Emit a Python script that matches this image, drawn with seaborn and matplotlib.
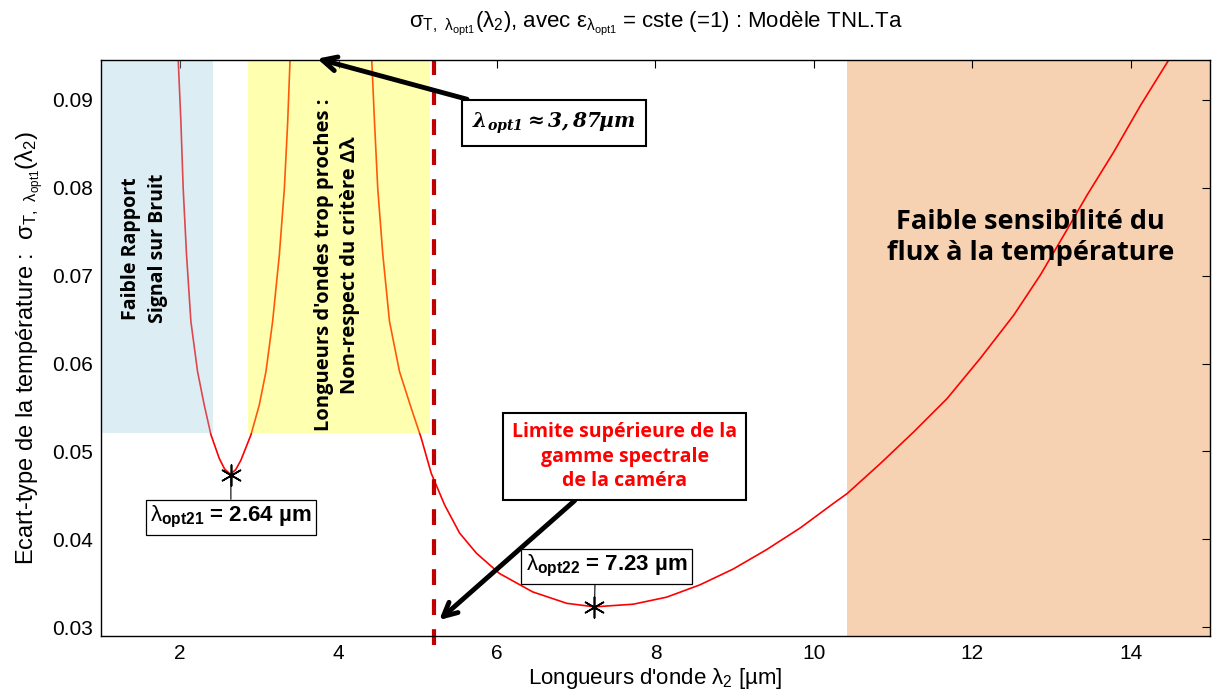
import numpy as np
import pandas as pd
import matplotlib
matplotlib.use('Agg')
import matplotlib.pyplot as plt
import seaborn as sns
from matplotlib.patches import Rectangle

# --- values ---
branch1_x = [1.975, 2.009, 2.038, 2.080, 2.135, 2.219, 2.303, 2.388, 2.493, 2.56, 2.632, 2.70, 2.767,
             2.894, 2.999, 3.083, 3.167, 3.252, 3.315, 3.357, 3.387]
branch1_y = [0.0946, 0.0875, 0.0799, 0.0724, 0.0648, 0.0591, 0.0553, 0.0519, 0.0492, 0.0480, 0.0474,
             0.0479, 0.0490, 0.0519, 0.0553, 0.0591, 0.0648, 0.0724, 0.0799, 0.0875, 0.0946]

branch2_x = [4.418, 4.453, 4.494, 4.558, 4.642, 4.768, 4.917, 5.043, 5.169, 5.338, 5.527, 5.74, 6.03,
             6.45, 6.88, 7.23, 7.72, 8.14, 8.56, 8.98, 9.40, 9.83, 10.25, 10.42, 10.837, 11.258, 11.680,
             12.101, 12.522, 12.860, 13.154, 13.450, 13.786, 14.124, 14.482]
branch2_y = [0.0946, 0.0875, 0.0799, 0.0724, 0.0648, 0.0591, 0.0549, 0.0515, 0.0475, 0.0439, 0.0407,
             0.0384, 0.0361, 0.0340, 0.0327, 0.0323, 0.0326, 0.0334, 0.0348, 0.0366, 0.0388, 0.0413,
             0.0441, 0.0452, 0.0486, 0.0522, 0.0560, 0.0606, 0.0655, 0.0701, 0.0746, 0.0792, 0.0841,
             0.0894, 0.0946]

minima_x = [2.64, 7.23]
minima_y = [0.0473, 0.0323]
minima_labels = [r'$\mathrm{\lambda}_{opt21}$ = 2.64 µm', r'$\mathrm{\lambda}_{opt22}$ = 7.23 µm']

lambda_opt1 = 3.87
camera_limit = 5.2
snr_zone = (1.0, 2.42)
close_zone = (2.85, 5.15)
zone_floor = 0.0521
sensi_zone = (10.42, 15.0)

x_ticks = [2, 4, 6, 8, 10, 12, 14]
y_ticks = [0.03, 0.04, 0.05, 0.06, 0.07, 0.08, 0.09]

sns.set_theme(style='white')
plt.rcParams['font.family'] = ['Liberation Sans', 'DejaVu Sans']
plt.rcParams['mathtext.fontset'] = 'custom'
plt.rcParams['mathtext.rm'] = 'Liberation Sans'
plt.rcParams['mathtext.default'] = 'regular'
plt.rcParams['text.color'] = 'black'
plt.rcParams['axes.labelcolor'] = 'black'

fig = plt.figure(figsize=(12.15, 6.96), dpi=100)
ax = fig.add_axes([0.0831, 0.0862, 0.9128, 0.8276])
ax.set_xlim(1, 15)
ax.set_ylim(0.02898, 0.09455)

# shaded zones
ax.add_patch(Rectangle((sensi_zone[0], 0.0), sensi_zone[1] - sensi_zone[0], 1.0,
                       facecolor='#f6d2b2', edgecolor='none', zorder=0))

df1 = pd.DataFrame({'x': branch1_x, 'y': branch1_y})
df2 = pd.DataFrame({'x': branch2_x, 'y': branch2_y})
sns.lineplot(data=df1, x='x', y='y', sort=False, color='red', lw=1.2, ax=ax, zorder=2)
sns.lineplot(data=df2, x='x', y='y', sort=False, color='red', lw=1.2, ax=ax, zorder=2)

ax.add_patch(Rectangle((snr_zone[0], zone_floor), snr_zone[1] - snr_zone[0], 1.0,
                       facecolor='#9ecee2', alpha=0.35, edgecolor='none', zorder=3))
ax.add_patch(Rectangle((close_zone[0], zone_floor), close_zone[1] - close_zone[0], 1.0,
                       facecolor='#ffff1d', alpha=0.35, edgecolor='none', zorder=3))

# camera limit
ax.plot([camera_limit, camera_limit], [0.02795, 0.09455], color='#c00000', lw=3,
        dashes=(3.8, 3.4), clip_on=False, zorder=4)

# minima + datatips
sns.scatterplot(x=minima_x, y=minima_y, marker=(6, 2, 0), s=220, color='black',
                edgecolor='black', linewidth=1.2, ax=ax, zorder=6)
tip_pos = [(2.64, 0.0425), (7.38, 0.0369)]
tip_rel = [(0.5, 1.0), (0.43, 0.0)]
for mx, my, lab, (bx, by), rel in zip(minima_x, minima_y, minima_labels, tip_pos, tip_rel):
    ax.annotate(lab, xy=(mx, my), xytext=(bx, by), ha='center', va='center',
                fontsize=16, fontweight='bold',
                bbox=dict(boxstyle='square,pad=0.2', fc='white', ec='black', lw=0.9),
                arrowprops=dict(arrowstyle='-', lw=0.8, color='black', shrinkA=0, shrinkB=0,
                                relpos=rel),
                zorder=7)

# lambda_opt1 callout
ax.annotate(r'$\lambda_{opt1} \approx 3,87µm$', xy=(3.73, 0.0947), xytext=(6.72, 0.0874),
            ha='center', va='center', fontsize=14.5, family='DejaVu Serif', fontweight='bold',
            fontstyle='italic',
            bbox=dict(boxstyle='square,pad=0.5', fc='white', ec='black', lw=1.5),
            arrowprops=dict(arrowstyle='->,head_length=0.7,head_width=0.35', lw=3.5,
                            color='black', shrinkA=0, shrinkB=0),
            annotation_clip=False, zorder=8)

# camera callout
ax.annotate('Limite supérieure de la\ngamme spectrale\nde la caméra', xy=(5.27, 0.0308),
            xytext=(7.61, 0.0494), ha='center', va='center', fontsize=14,
            family='Open Sans', fontweight='bold', color='red', linespacing=1.3,
            bbox=dict(boxstyle='square,pad=0.45', fc='white', ec='black', lw=1.5),
            arrowprops=dict(arrowstyle='->,head_length=0.7,head_width=0.35', lw=3.5,
                            color='black', shrinkA=0, shrinkB=0),
            zorder=8)

# zone labels
ax.text(1.545, 0.0731, 'Faible Rapport\nSignal sur Bruit', rotation=90, ha='center', va='center',
        fontsize=14, family='Open Sans', fontweight='bold', linespacing=1.45, zorder=5)
ax.text(3.985, 0.0712, "Longueurs d'ondes trop proches :\nNon-respect du critère Δλ", rotation=90,
        ha='center', va='center', fontsize=14.5, family='Open Sans', fontweight='bold',
        linespacing=1.4, zorder=5)
ax.text(12.73, 0.0744, 'Faible sensibilité du\nflux à la température', ha='center', va='center',
        fontsize=19.5, family='Open Sans', fontweight='bold', linespacing=1.25, zorder=5)

ax.set_xticks(x_ticks)
ax.set_yticks(y_ticks)
ax.set_yticklabels([f'{v:.2f}' for v in y_ticks])
ax.tick_params(direction='in', top=True, right=True, length=6, width=0.8, labelsize=15,
               colors='black', pad=6)
for sp in ax.spines.values():
    sp.set_color('black')
    sp.set_linewidth(1.0)
    sp.set_zorder(9)

ax.set_xlabel(r"Longueurs d'onde $\lambda_2$ [µm]", fontsize=16, labelpad=2)
ax.set_ylabel(r'Ecart-type de la température :  $\sigma_{T,\ \lambda_{opt1}}(\lambda_2)$', fontsize=17,
              labelpad=4)
ax.set_title(r'$\sigma_{T,\ \lambda_{opt1}}(\lambda_2)$, avec $\varepsilon_{\lambda_{opt1}}$ = cste (=1) : Modèle TNL.Ta',
             fontsize=16, pad=24)

fig.savefig('out.png', dpi=100)
